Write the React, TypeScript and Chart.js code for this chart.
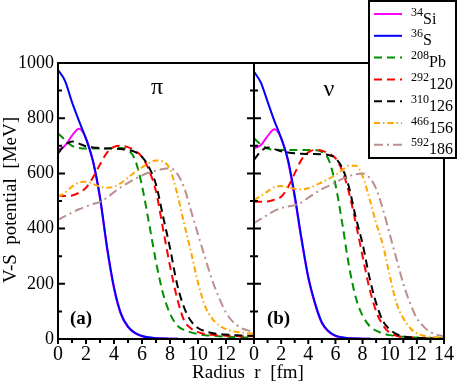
import React, { useEffect, useRef } from 'react';
import { Chart, registerables } from 'chart.js';

Chart.register(...registerables);

const W = 458;
const H = 392;
const FONT = '"Liberation Serif", "Times New Roman", serif';

// Radius grid [fm]
const RADIUS = [0, 0.5, 1, 1.5, 2, 2.5, 3, 3.5, 4, 4.5, 5, 5.5, 6, 6.5, 7, 7.5, 8, 8.5, 9, 9.5, 10, 10.5, 11, 11.5, 12, 12.5, 13, 13.5, 14];

// (a) protons  (pi)
const PI_SI34 = [685, 700, 737, 762, 728, 642, 508, 328, 182, 88, 43, 21, 10, 5, 3, 2, 1, 0.5, 0, 0, 0, 0, 0, 0, 0, 0, 0, 0, 0];
const PI_S36 = [975, 935, 858, 790, 725, 645, 515, 335, 188, 92, 45, 22, 11, 6, 3, 2, 1, 0.5, 0, 0, 0, 0, 0, 0, 0, 0, 0, 0, 0];
const PI_PB208 = [745, 722, 700, 692, 690, 690, 690, 691, 692, 692, 685, 650, 555, 420, 280, 165, 92, 50, 33, 24, 18, 14, 12, 10, 8, 7, 6, 5, 4];
const PI_120 = [520, 518, 520, 530, 548, 585, 632, 675, 696, 700, 695, 682, 660, 612, 535, 400, 265, 150, 68, 38, 25, 18, 15, 13, 12, 11, 10, 10, 10];
const PI_126 = [672, 703, 716, 708, 698, 694, 692, 690, 690, 688, 685, 678, 660, 622, 560, 445, 330, 200, 115, 65, 40, 28, 22, 18, 16, 14, 13, 12, 12];
const PI_156 = [515, 530, 552, 567, 570, 562, 552, 548, 552, 565, 585, 605, 622, 637, 647, 643, 615, 530, 420, 315, 205, 120, 75, 50, 36, 28, 24, 21, 20];
const PI_186 = [432, 445, 458, 470, 480, 489, 497, 512, 532, 550, 566, 580, 593, 603, 610, 616, 619, 600, 550, 465, 380, 295, 215, 150, 95, 62, 42, 32, 25];

// (b) neutrons (nu)
const NU_SI34 = [691, 702, 735, 760, 728, 645, 512, 358, 220, 125, 57, 26, 11, 5, 3, 2, 1, 0.5, 0, 0, 0, 0, 0, 0, 0, 0, 0, 0, 0];
const NU_S36 = [968, 930, 860, 790, 728, 650, 520, 365, 225, 130, 60, 28, 12, 6, 3, 2, 1, 0.5, 0, 0, 0, 0, 0, 0, 0, 0, 0, 0, 0];
const NU_PB208 = [727, 705, 690, 686, 685, 685, 685, 685, 685, 684, 678, 650, 560, 420, 265, 150, 85, 48, 30, 20, 14, 10, 8, 6, 5, 4, 3, 3, 2];
const NU_120 = [498, 497, 498, 505, 515, 550, 600, 650, 676, 685, 682, 672, 655, 610, 530, 420, 300, 185, 100, 50, 22, 12, 7, 5, 4, 3, 2, 2, 2];
const NU_126 = [649, 680, 694, 688, 680, 676, 673, 671, 670, 670, 669, 667, 655, 620, 550, 440, 345, 225, 130, 65, 35, 18, 10, 6, 4, 3, 2, 2, 2];
const NU_156 = [504, 518, 535, 550, 554, 550, 544, 542, 546, 556, 568, 580, 594, 612, 628, 628, 590, 510, 420, 340, 230, 130, 75, 40, 20, 12, 8, 6, 5];
const NU_186 = [420, 435, 450, 464, 474, 480, 485, 495, 512, 528, 543, 555, 567, 580, 590, 597, 600, 585, 545, 470, 380, 290, 200, 130, 75, 45, 25, 15, 10];

// Legend labels (mass number as superscript + element / Z)
const LABEL_SUPS = ['34', '36', '208', '292', '310', '466', '592'];
const LABEL_BASES = ['Si', 'S', 'Pb', '120', '126', '156', '186'];

const COLORS = ['#ff00ff', '#0000ff', '#009000', '#ff0000', '#000000', '#ffa500', '#bc8f8f'];
const DASHES: number[][] = [[], [], [8, 5], [8, 5], [8, 5], [6, 3, 1.5, 3], [9, 4, 2, 4]];

const PI_SERIES = [PI_SI34, PI_S36, PI_PB208, PI_120, PI_126, PI_156, PI_186];
const NU_SERIES = [NU_SI34, NU_S36, NU_PB208, NU_120, NU_126, NU_156, NU_186];

const Y_TICKS = [0, 100, 200, 300, 400, 500, 600, 700, 800, 900, 1000];
const X_TICKS = [0, 1, 2, 3, 4, 5, 6, 7, 8, 9, 10, 11, 12, 13, 14];

function buildDatasets(series: number[][]) {
  return series.map((vals, i) => ({
    data: RADIUS.map((r, k) => ({ x: r, y: vals[k] })),
    borderColor: COLORS[i],
    backgroundColor: COLORS[i],
    borderDash: DASHES[i],
    borderWidth: 2,
    pointRadius: 0,
    cubicInterpolationMode: 'monotone' as const,
    fill: false,
    order: 20 - i,
  }));
}

function drawLegend(ctx: CanvasRenderingContext2D) {
  ctx.save();
  ctx.fillStyle = '#ffffff';
  ctx.fillRect(369, 1, 87, 157);
  ctx.strokeStyle = '#000';
  ctx.lineWidth = 2;
  ctx.setLineDash([]);
  ctx.strokeRect(369, 1, 87, 157);
  for (let i = 0; i < LABEL_SUPS.length; i++) {
    const yy = 14 + i * 21.8;
    ctx.beginPath();
    ctx.strokeStyle = COLORS[i];
    ctx.lineWidth = 2;
    ctx.setLineDash(DASHES[i]);
    ctx.moveTo(374, yy);
    ctx.lineTo(402, yy);
    ctx.stroke();
    ctx.setLineDash([]);
    ctx.fillStyle = '#000';
    ctx.textAlign = 'left';
    ctx.textBaseline = 'alphabetic';
    ctx.font = `12px ${FONT}`;
    ctx.fillText(LABEL_SUPS[i], 411, yy + 1.5);
    const sw = ctx.measureText(LABEL_SUPS[i]).width;
    ctx.font = `16px ${FONT}`;
    ctx.fillText(LABEL_BASES[i], 411 + sw, yy + 9.5);
  }
  ctx.restore();
}

function makeFramePlugin(panel: 'a' | 'b') {
  return {
    id: 'frame_' + panel,
    afterDraw(chart: any) {
      const { ctx, chartArea: a, scales } = chart;
      const xs = scales.x;
      const ys = scales.y;
      ctx.save();
      ctx.strokeStyle = '#000';
      ctx.lineWidth = 2;
      ctx.setLineDash([]);
      ctx.strokeRect(a.left, a.top, a.right - a.left, a.bottom - a.top);
      ctx.beginPath();
      for (const v of Y_TICKS) {
        const py = ys.getPixelForValue(v);
        const len = v % 200 === 0 ? 7 : 4;
        ctx.moveTo(a.left, py);
        ctx.lineTo(a.left + len, py);
        if (panel === 'a') {
          ctx.moveTo(a.right, py);
          ctx.lineTo(a.right - len, py);
        }
      }
      for (const r of X_TICKS) {
        const px = xs.getPixelForValue(r);
        const len = r % 2 === 0 ? 5 : 4;
        ctx.moveTo(px, a.bottom);
        ctx.lineTo(px, a.bottom + len);
      }
      ctx.stroke();

      ctx.fillStyle = '#000';
      ctx.textAlign = 'center';
      ctx.textBaseline = 'alphabetic';
      if (panel === 'a') {
        ctx.font = `24px ${FONT}`;
        ctx.fillText('π', 157, 94);
        ctx.font = `bold 19px ${FONT}`;
        ctx.fillText('(a)', 81, 324);
        // y-axis title
        ctx.save();
        ctx.translate(16, 200);
        ctx.rotate(-Math.PI / 2);
        ctx.font = `19px ${FONT}`;
        ctx.textAlign = 'center';
        ctx.fillText('V-S  potential  [MeV]', 0, 0);
        ctx.restore();
      } else {
        ctx.font = `24px ${FONT}`;
        ctx.fillText('ν', 329, 96);
        ctx.font = `bold 19px ${FONT}`;
        ctx.fillText('(b)', 278.5, 324);
        ctx.font = `19px ${FONT}`;
        ctx.fillText('Radius  r  [fm]', 248, 378);
        drawLegend(ctx);
      }
      ctx.restore();
    },
  };
}

function makeConfig(panel: 'a' | 'b'): any {
  const left = panel === 'a';
  return {
    type: 'line',
    data: { datasets: buildDatasets(left ? PI_SERIES : NU_SERIES) },
    options: {
      responsive: false,
      animation: false,
      devicePixelRatio: 1,
      layout: {
        padding: left
          ? { left: 0, right: W - 254, top: 63, bottom: 0 }
          : { left: 254, right: W - 447, top: 63, bottom: 0 },
      },
      plugins: {
        legend: { display: false },
        tooltip: { enabled: false },
        title: { display: false },
      },
      scales: {
        x: {
          type: 'linear',
          min: 0,
          max: 14,
          grid: { display: false, drawTicks: false },
          border: { display: false },
          ticks: {
            stepSize: 2,
            autoSkip: false,
            maxRotation: 0,
            minRotation: 0,
            padding: 4,
            color: '#000',
            font: { family: FONT, size: 20 },
            callback: (v: number) => (left && v === 14 ? '' : String(v)),
          },
          afterFit: (s: any) => {
            s.height = H - 339;
          },
        },
        y: {
          type: 'linear',
          display: left,
          min: 0,
          max: 1000,
          grid: { display: false, drawTicks: false },
          border: { display: false },
          ticks: {
            stepSize: 200,
            autoSkip: false,
            padding: 4,
            color: '#000',
            font: { family: FONT, size: 18 },
            callback: (v: number) => String(v),
          },
          afterFit: (s: any) => {
            s.width = left ? 58 : 0;
          },
        },
      },
    },
    plugins: [makeFramePlugin(panel)],
  };
}

export default function App() {
  const refA = useRef<HTMLCanvasElement>(null);
  const refB = useRef<HTMLCanvasElement>(null);

  useEffect(() => {
    const ca = new Chart(refA.current as HTMLCanvasElement, makeConfig('a'));
    const cb = new Chart(refB.current as HTMLCanvasElement, makeConfig('b'));
    return () => {
      ca.destroy();
      cb.destroy();
    };
  }, []);

  const cStyle: React.CSSProperties = { position: 'absolute', left: 0, top: 0, width: W, height: H, display: 'block' };
  return (
    <div style={{ position: 'fixed', left: 0, top: 0, width: W, height: H, background: '#fff' }}>
      <canvas ref={refA} width={W} height={H} style={cStyle} />
      <canvas ref={refB} width={W} height={H} style={cStyle} />
    </div>
  );
}
